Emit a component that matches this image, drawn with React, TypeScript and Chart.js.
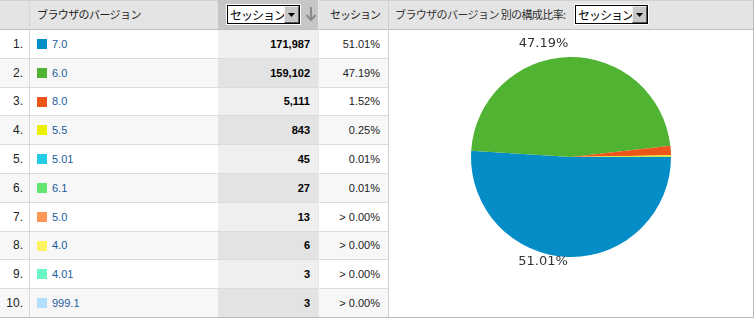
import React, { useEffect, useRef } from "react";
import { Chart, registerables } from "chart.js";

Chart.register(...registerables);

const versions = ["7.0", "6.0", "8.0", "5.5", "5.01", "6.1", "5.0", "4.0", "4.01", "999.1"];
const sessions = [171987, 159102, 5111, 843, 45, 27, 13, 6, 3, 3];
const percentLabels = ["51.01%", "47.19%", "1.52%", "0.25%", "0.01%", "0.01%", "> 0.00%", "> 0.00%", "> 0.00%", "> 0.00%"];
const colors = ["#058dc7", "#50b432", "#ed561b", "#edef00", "#24cbe5", "#64e572", "#ff9655", "#fff263", "#6af9c4", "#b2deff"];

const headerDim = "ブラウザのバージョン";
const headerMetric = "セッション";
const pieTitle = "ブラウザのバージョン 別の構成比率:";

const W = 754;
const H = 318;
const HEADER_LINE = 29;
const ROW_H = 28.8;
const COL_NUM = 29;
const COL_SESS_L = 218;
const COL_SESS_R = 318;
const COL_PCT_R = 388;

const jp = '"Noto Sans CJK JP", "Noto Sans", sans-serif';
const latin = '"Liberation Sans", Arial, sans-serif';

function SelectBox({ left, top, width }: { left: number; top: number; width: number }) {
  return (
    <div
      style={{
        position: "absolute",
        left,
        top,
        width,
        height: 19,
        boxSizing: "border-box",
        background: "#fff",
        border: "1px solid #000",
        outline: "1px solid #fff",
      }}
    >
      <div
        style={{
          position: "absolute",
          left: 2,
          top: 0,
          height: 17,
          lineHeight: "17px",
          fontFamily: jp,
          fontSize: 12,
          letterSpacing: -1,
          color: "#000",
          whiteSpace: "nowrap",
        }}
      >
        {headerMetric}
      </div>
      <div
        style={{
          position: "absolute",
          right: 0,
          top: 0,
          width: 15,
          height: 17,
          boxSizing: "border-box",
          background: "#c8c8c8",
          borderTop: "1px solid #eee",
          borderLeft: "1px solid #eee",
          borderRight: "1px solid #555",
          borderBottom: "1px solid #555",
        }}
      >
        <svg width="13" height="15" style={{ position: "absolute", left: 0, top: 0 }}>
          <polygon points="3,6 10,6 6.5,10" fill="#000" />
        </svg>
      </div>
    </div>
  );
}

const labelPlugin = {
  id: "sliceLabels",
  afterDatasetsDraw(chart: any) {
    const meta = chart.getDatasetMeta(0);
    const data = chart.data.datasets[0].data as number[];
    const total = data.reduce((a, b) => a + b, 0);
    const ctx = chart.ctx;
    ctx.save();
    ctx.font = '13px "DejaVu Sans", sans-serif';
    ctx.fillStyle = "#333";
    meta.data.forEach((arc: any, i: number) => {
      const frac = data[i] / total;
      if (frac < 0.1) return;
      const p = arc.getProps(["x", "y", "startAngle", "endAngle", "outerRadius"], true);
      const mid = (p.startAngle + p.endAngle) / 2;
      const s = Math.sin(mid);
      const c = Math.cos(mid);
      const off = s < 0 ? 7 : -2;
      const px = p.x + c * (p.outerRadius + off);
      const py = p.y + s * (p.outerRadius + off);
      ctx.textAlign = c > 0.2 ? "left" : "right";
      ctx.textBaseline = s < 0 ? "bottom" : "top";
      ctx.fillText(percentLabels[i], px, py);
    });
    ctx.restore();
  },
};

export default function App() {
  const canvasRef = useRef<HTMLCanvasElement | null>(null);

  useEffect(() => {
    document.body.style.margin = "0";
    const chart = new Chart(canvasRef.current as HTMLCanvasElement, {
      type: "pie",
      data: {
        labels: versions,
        datasets: [
          {
            data: sessions,
            backgroundColor: colors,
            borderWidth: 0,
          },
        ],
      },
      options: {
        animation: false,
        responsive: false,
        maintainAspectRatio: false,
        rotation: 90,
        layout: { padding: { top: 28, bottom: 28, left: 0, right: 0 } },
        plugins: {
          legend: { display: false },
          tooltip: { enabled: false },
        },
      },
      plugins: [labelPlugin],
    });
    return () => chart.destroy();
  }, []);

  const lines: number[] = [];
  for (let i = 0; i <= versions.length; i++) lines.push(Math.round(HEADER_LINE + i * ROW_H));

  return (
    <div style={{ position: "fixed", left: 0, top: 0, width: W, height: H, background: "#fff", overflow: "hidden" }}>
      {/* header background */}
      <div style={{ position: "absolute", left: 0, top: 0, width: W, height: HEADER_LINE, background: "#e4e4e4", borderTop: "1px solid #d0d0d0", boxSizing: "border-box" }} />
      <div style={{ position: "absolute", left: COL_SESS_L, top: 0, width: COL_SESS_R - COL_SESS_L, height: HEADER_LINE, background: "#c6c6c6" }} />
      <div style={{ position: "absolute", left: 0, top: HEADER_LINE, width: W, height: 1, background: "#c0c0c0" }} />

      {/* rows */}
      {versions.map((v, i) => {
        const top = lines[i] + 1;
        const h = lines[i + 1] - lines[i] - 1;
        const even = i % 2 === 1;
        return (
          <React.Fragment key={v + i}>
            <div style={{ position: "absolute", left: 0, top, width: COL_PCT_R, height: h, background: even ? "#f7f7f7" : "#fff" }} />
            <div style={{ position: "absolute", left: COL_SESS_L, top, width: COL_SESS_R - COL_SESS_L, height: h, background: even ? "#e3e3e3" : "#efefef" }} />
            <div style={{ position: "absolute", left: 0, top: lines[i + 1], width: COL_PCT_R, height: 1, background: "#dcdcdc" }} />
            <div style={{ position: "absolute", right: W - 23, top, height: h, lineHeight: h + "px", fontFamily: latin, fontSize: 12, color: "#222", whiteSpace: "nowrap" }}>
              {i + 1 + "."}
            </div>
            <div style={{ position: "absolute", left: 37, top: top + Math.round((h - 10) / 2), width: 10, height: 10, background: colors[i] }} />
            <div style={{ position: "absolute", left: 52, top, height: h, lineHeight: h + "px", fontFamily: latin, fontSize: 11, color: "#1c5b9a", whiteSpace: "nowrap" }}>
              {v}
            </div>
            <div style={{ position: "absolute", right: W - 310, top, height: h, lineHeight: h + "px", fontFamily: latin, fontSize: 11, fontWeight: "bold", color: "#000", whiteSpace: "nowrap" }}>
              {sessions[i].toLocaleString("en-US")}
            </div>
            <div style={{ position: "absolute", right: W - 380, top, height: h, lineHeight: h + "px", fontFamily: latin, fontSize: 11, color: "#222", whiteSpace: "nowrap" }}>
              {percentLabels[i]}
            </div>
          </React.Fragment>
        );
      })}

      {/* vertical dividers */}
      <div style={{ position: "absolute", left: COL_NUM, top: 0, width: 1, height: H, background: "#d8d8d8" }} />
      <div style={{ position: "absolute", left: COL_SESS_R, top: 0, width: 1, height: H, background: "#e8e8e8" }} />
      <div style={{ position: "absolute", left: COL_PCT_R, top: 0, width: 1, height: H, background: "#cfcfcf" }} />
      <div style={{ position: "absolute", left: W - 1, top: 0, width: 1, height: H, background: "#bbbbbb" }} />
      <div style={{ position: "absolute", left: 0, top: H - 1, width: W, height: 1, background: "#bbbbbb" }} />

      {/* header texts */}
      <div style={{ position: "absolute", left: 37, top: 0, height: HEADER_LINE, lineHeight: HEADER_LINE + "px", fontFamily: jp, fontSize: 11, letterSpacing: -0.6, color: "#222", whiteSpace: "nowrap" }}>
        {headerDim}
      </div>
      <SelectBox left={227} top={5} width={73} />
      <svg width="12" height="16" style={{ position: "absolute", left: 305, top: 6 }}>
        <line x1="6" y1="1" x2="6" y2="14" stroke="#8a8a8a" strokeWidth="2" />
        <polyline points="1.5,9 6,14 10.5,9" fill="none" stroke="#8a8a8a" strokeWidth="2" />
      </svg>
      <div style={{ position: "absolute", right: W - 380, top: 0, height: HEADER_LINE, lineHeight: HEADER_LINE + "px", fontFamily: jp, fontSize: 11, letterSpacing: -1, color: "#222", whiteSpace: "nowrap" }}>
        {headerMetric}
      </div>
      <div style={{ position: "absolute", left: 395, top: 0, height: HEADER_LINE, lineHeight: HEADER_LINE + "px", fontFamily: jp, fontSize: 11, letterSpacing: -0.6, color: "#333", whiteSpace: "nowrap" }}>
        {pieTitle}
      </div>
      <SelectBox left={575} top={5} width={73} />

      {/* pie */}
      <canvas ref={canvasRef} width={364} height={256} style={{ position: "absolute", left: 389, top: 29, width: 364, height: 256 }} />
    </div>
  );
}
